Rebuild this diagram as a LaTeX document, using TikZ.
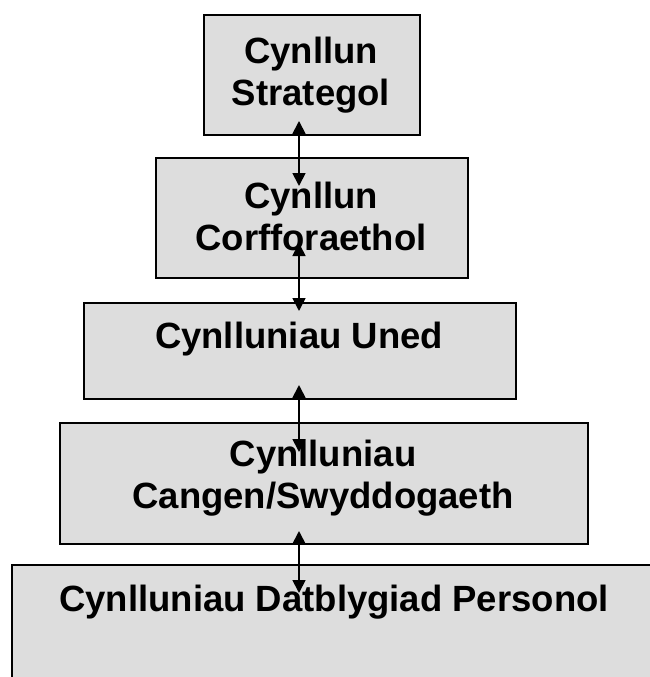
\documentclass[tikz,border=0pt]{standalone}
\usepackage{fontspec}
\setmainfont{Liberation Sans}
\usetikzlibrary{arrows.meta}
\definecolor{boxgray}{HTML}{DDDDDD}
\tikzset{
  box/.style={draw=black, line width=1.8pt, fill=boxgray, anchor=north west, inner sep=0pt},
  lbl/.style={font=\fontsize{36.5}{42}\selectfont\bfseries, align=center, inner sep=0pt, anchor=base},
  link/.style={line width=1.8pt, {Triangle[width=13pt,length=13pt]}-{Triangle[width=13pt,length=13pt]}}
}
\begin{document}
\begin{tikzpicture}[x=1pt,y=-1pt]
\useasboundingbox (0,0) rectangle (649,677);
% boxes
\node[box, minimum width=216pt, minimum height=120pt] (b1) at (203,14) {};
\node[box, minimum width=312pt, minimum height=120pt] (b2) at (155,157) {};
\node[box, minimum width=432pt, minimum height=96pt] (b3) at (83,302) {};
\node[box, minimum width=528pt, minimum height=121pt] (b4) at (59,422) {};
\node[box, minimum width=647pt, minimum height=125pt] (b5) at (11,564) {};
% labels (base anchor = baseline of the last line)
\node[lbl] (t1) at (311,105) {Cynllun\\Strategol};
\node[lbl] (t2) at (311,250) {Cynllun\\Corfforaethol};
\node[lbl] (t3) at (299,348) {Cynlluniau Uned};
\node[lbl] (t4) at (323,508) {Cynlluniau\\Cangen/Swyddogaeth};
\node[lbl] (t5) at (334,611) {Cynlluniau Datblygiad Personol};
% connectors
\coordinate (a1s) at (299,121);
\coordinate (a1e) at (299,186);
\coordinate (a2s) at (299,243);
\coordinate (a2e) at (299,311);
\coordinate (a3s) at (299,385);
\coordinate (a3e) at (299,452);
\coordinate (a4s) at (299,531);
\coordinate (a4e) at (299,593);
\draw[link] (a1s) -- (a1e);
\draw[link] (a2s) -- (a2e);
\draw[link] (a3s) -- (a3e);
\draw[link] (a4s) -- (a4e);
\end{tikzpicture}
\end{document}
